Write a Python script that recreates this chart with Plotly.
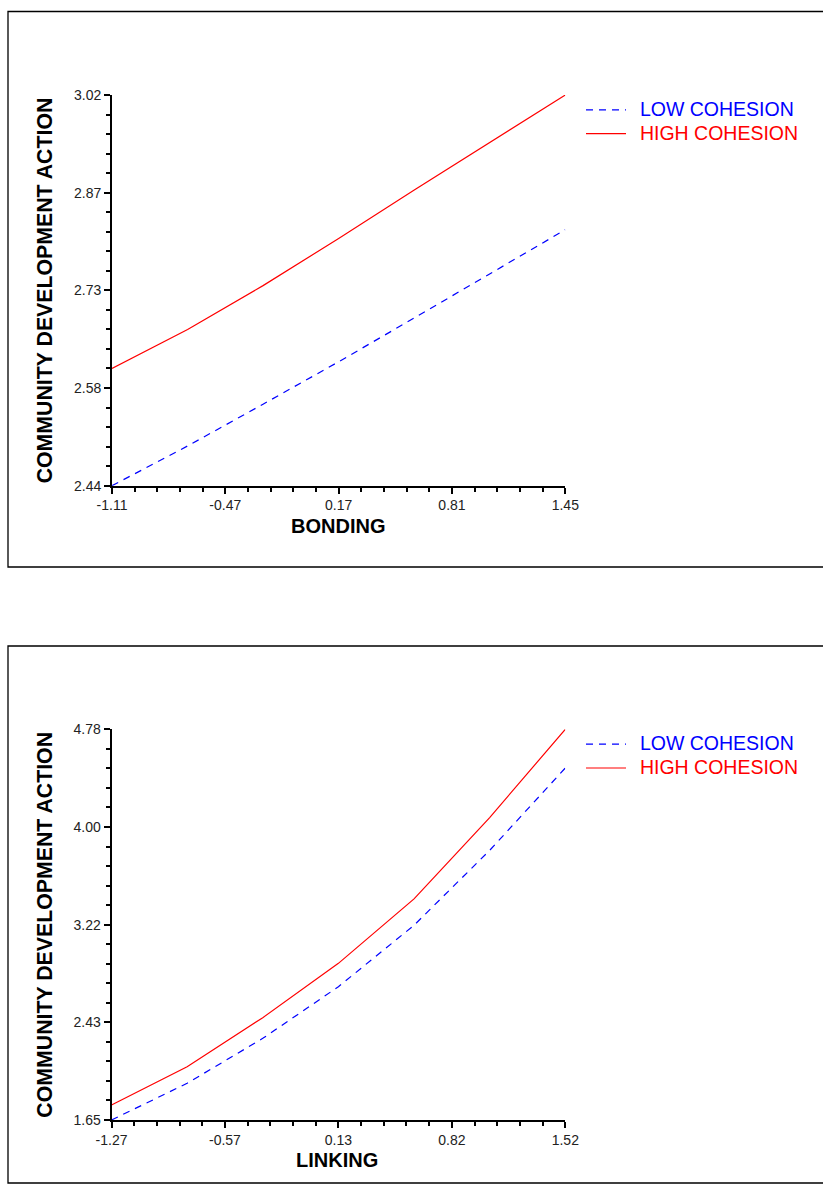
import numpy as np
import plotly.graph_objects as go

W, H = 823, 1196

# ---- data ----
bonding_x = [-1.11, -0.683, -0.257, 0.17, 0.597, 1.023, 1.45]
bonding_low = [2.44, 2.499, 2.561, 2.624, 2.689, 2.755, 2.82]
bonding_high = [2.614, 2.672, 2.737, 2.807, 2.879, 2.950, 3.02]

linking_x = [-1.27, -0.805, -0.34, 0.125, 0.59, 1.055, 1.52]
linking_low = [1.65, 1.944, 2.304, 2.718, 3.21, 3.81, 4.47]
linking_high = [1.77, 2.077, 2.47, 2.905, 3.421, 4.073, 4.78]

bond_xticks = ["-1.11", "-0.47", "0.17", "0.81", "1.45"]
bond_yticks = ["2.44", "2.58", "2.73", "2.87", "3.02"]
link_xticks = ["-1.27", "-0.57", "0.13", "0.82", "1.52"]
link_yticks = ["1.65", "2.43", "3.22", "4.00", "4.78"]

series_names = ["LOW COHESION", "HIGH COHESION"]
series_colors = ["#0000ff", "#ff0000"]

FONT = "Liberation Sans, Arial, sans-serif"


def px_x(p):
    return p / W


def px_y(p):
    return 1 - p / H


fig = go.Figure()

panels = [
    dict(x=bonding_x, low=bonding_low, high=bonding_high, xt=bond_xticks, yt=bond_yticks,
         xtitle="BONDING", xa="x", ya="y", legend="legend",
         left=112, right=565.3, top=95, bottom=485.7, box=(8, 11.5, 567)),
    dict(x=linking_x, low=linking_low, high=linking_high, xt=link_xticks, yt=link_yticks,
         xtitle="LINKING", xa="x2", ya="y2", legend="legend2",
         left=111.5, right=565.3, top=729.3, bottom=1120, box=(8, 646, 1183)),
]

for i, p in enumerate(panels):
    for name, vals, color, dash in [
        (series_names[0], p["low"], series_colors[0], "7px,6px"),
        (series_names[1], p["high"], series_colors[1], "solid"),
    ]:
        fig.add_trace(go.Scatter(
            x=p["x"], y=vals, mode="lines",
            name=f"&nbsp;&nbsp;<span style='color:{color};font-size:19.5px'>{name}</span>",
            line=dict(color=color, width=1.2, dash=dash),
            xaxis=p["xa"], yaxis=p["ya"], legend=p["legend"],
            cliponaxis=False,
        ))

    xlo, xhi = min(p["x"]), max(p["x"])
    allv = p["low"] + p["high"]
    ylo, yhi = min(allv), max(allv)
    xtv = list(np.linspace(xlo, xhi, 5))
    ytv = list(np.linspace(ylo, yhi, 5))
    suffix = "" if i == 0 else str(i + 1)
    axis_common = dict(
        showline=True, linecolor="black", linewidth=1.8,
        ticks="outside", ticklen=6, tickwidth=1.5, tickcolor="black",
        showgrid=False, zeroline=False, automargin=False,
        tickfont=dict(family=FONT, size=14, color="#222"),
        tickmode="array",
    )
    fig.layout["xaxis" + suffix] = dict(
        axis_common,
        domain=[px_x(p["left"]), px_x(p["right"])],
        range=[xlo, xhi], tickvals=xtv, ticktext=p["xt"],
        anchor="y" + suffix, ticklabelstandoff=0,
        minor=dict(ticks="outside", ticklen=4, tickwidth=1.5, tickcolor="black",
                   tick0=xlo, dtick=(xhi - xlo) / 20, showgrid=False),
    )
    fig.layout["yaxis" + suffix] = dict(
        axis_common,
        domain=[px_y(p["bottom"]), px_y(p["top"])],
        range=[ylo, yhi], tickvals=ytv, ticktext=p["yt"],
        anchor="x" + suffix,
        minor=dict(ticks="outside", ticklen=4, tickwidth=1.5, tickcolor="black",
                   tick0=ylo, dtick=(yhi - ylo) / 20, showgrid=False),
    )

    cx = (p["left"] + p["right"]) / 2 - 1
    fig.add_annotation(
        x=px_x(cx), y=px_y(p["bottom"] + 40), xref="paper", yref="paper",
        text=f"<b>{p['xtitle']}</b>", showarrow=False,
        font=dict(family=FONT, size=20, color="black"),
        xanchor="center", yanchor="middle",
    )
    fig.add_annotation(
        x=px_x(45), y=px_y((p["top"] + p["bottom"]) / 2), xref="paper", yref="paper",
        text="<b>COMMUNITY DEVELOPMENT ACTION</b>", showarrow=False, textangle=-90,
        font=dict(family=FONT, size=21.3, color="black"),
        xanchor="center", yanchor="middle",
    )

    bx0, by0, by1 = p["box"]
    fig.add_shape(type="rect", xref="paper", yref="paper",
                  x0=px_x(bx0), x1=px_x(830), y0=px_y(by1), y1=px_y(by0),
                  line=dict(color="black", width=1.3), layer="below")

    legend_def = dict(
        x=px_x(581), y=px_y(p["top"] - 2), xanchor="left", yanchor="top",
        font=dict(family=FONT, size=16, color="black"),
        bgcolor="rgba(0,0,0,0)", borderwidth=0, tracegroupgap=0,
        itemwidth=40,
    )
    fig.layout[p["legend"]] = legend_def

fig.update_layout(
    width=W, height=H, margin=dict(l=0, r=0, t=0, b=0),
    paper_bgcolor="white", plot_bgcolor="white",
    showlegend=True,
)

fig.write_html("out.html")
